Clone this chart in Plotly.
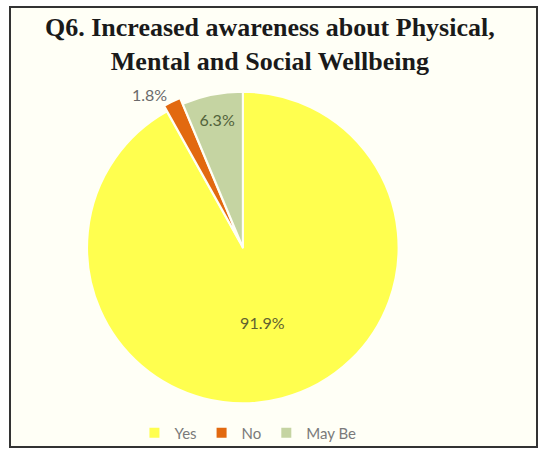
import plotly.graph_objects as go

# Survey responses for Q6
categories = ["Yes", "No", "May Be"]
shares = [91.9, 1.8, 6.3]
slice_colors = ["#FFFF4F", "#E2690F", "#C5D4A2"]
label_colors = ["#5F6130", "#6A6A6A", "#52633A"]

title_text = "<b>Q6. Increased awareness about Physical,<br>Mental and Social Wellbeing</b>"

fig = go.Figure(
    go.Pie(
        labels=categories,
        values=shares,
        sort=False,
        direction="clockwise",
        rotation=0,
        marker=dict(colors=slice_colors, line=dict(color="#FFFFF6", width=2)),
        pull=[0, 0.04, 0],
        texttemplate="%{value:.1f}%",
        textposition=["inside", "outside", "inside"],
        insidetextorientation="horizontal",
        textfont=dict(family="Lato, Liberation Sans, sans-serif", size=16, color=label_colors),
        hoverinfo="label+percent",
        domain=dict(x=[0.150, 0.751], y=[0.088, 0.812]),
        showlegend=True,
    )
)

fig.update_layout(
    width=539,
    height=450,
    margin=dict(l=0, r=0, t=0, b=0),
    paper_bgcolor="#FFFFFF",
    legend=dict(
        orientation="h",
        x=0.46,
        xanchor="center",
        y=1 - 433 / 450,
        yanchor="middle",
        font=dict(family="Lato, Liberation Sans, sans-serif", size=15, color="#7A7A7A"),
        itemwidth=30,
        bgcolor="rgba(0,0,0,0)",
    ),
    annotations=[
        dict(
            text=title_text,
            xref="paper",
            yref="paper",
            x=0.5,
            y=1 - 45 / 450,
            xanchor="center",
            yanchor="middle",
            showarrow=False,
            font=dict(family="Liberation Serif, Times New Roman, serif", size=26, color="#1A1A1A"),
        )
    ],
    shapes=[
        dict(
            type="rect",
            xref="paper",
            yref="paper",
            x0=10 / 539,
            x1=537 / 539,
            y0=1 - 447 / 450,
            y1=1 - 7 / 450,
            line=dict(color="#333333", width=2),
            fillcolor="#FFFFF6",
            layer="below",
        )
    ],
)

fig.write_html("out.html")
